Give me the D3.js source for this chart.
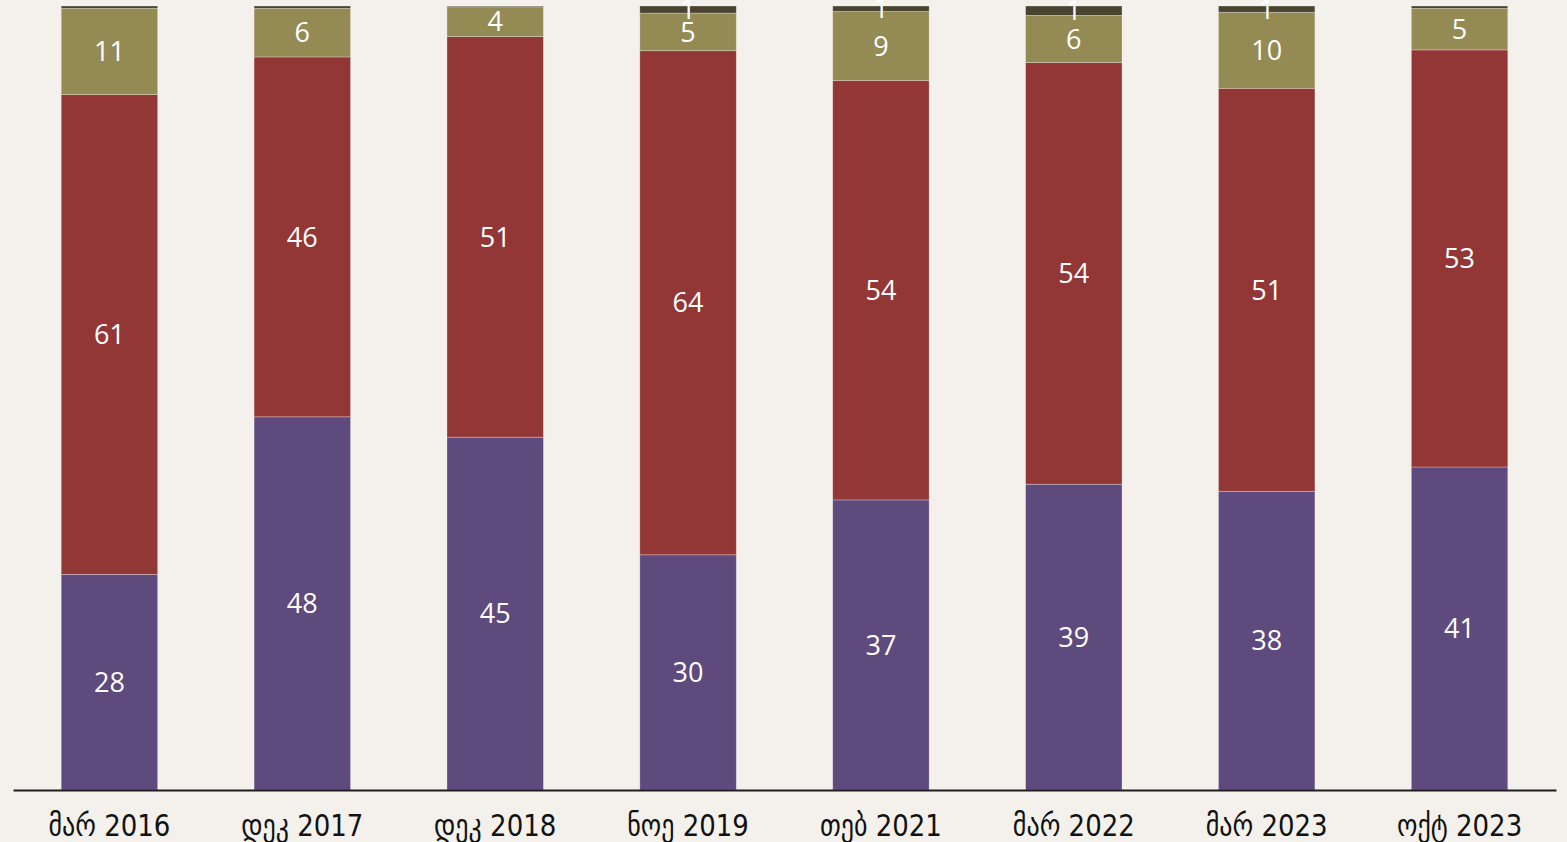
<!DOCTYPE html>
<html>
<head>
<meta charset="utf-8">
<script src="https://cdn.jsdelivr.net/npm/d3@7"></script>
<style>
  html, body { margin: 0; padding: 0; background: #F4F1EC; }
  svg { display: block; }
</style>
</head>
<body>
<svg id="chart" width="1567" height="842"></svg>
<script>
// Survey waves (x axis)
const categories = ["მარ 2016", "დეკ 2017", "დეკ 2018", "ნოე 2019", "თებ 2021", "მარ 2022", "მარ 2023", "ოქტ 2023"];

// Shares per wave, in percent, stacked bottom to top
const seriesA = [27.5, 47.6, 45.0, 30.0, 37.0, 39.0, 38.1, 41.2]; // purple
const seriesB = [61.2, 45.9, 51.1, 64.3, 53.5, 53.8, 51.4, 53.2]; // red
const seriesC = [11.0, 6.2, 3.8, 4.8, 8.8, 6.0, 9.7, 5.3];        // olive
const seriesD = [0.3, 0.3, 0.1, 0.9, 0.7, 1.2, 0.8, 0.3];         // dark

const seriesKeys = ["a", "b", "c", "d"];
const colors = { a: "#5E4A7C", b: "#933636", c: "#948A54", d: "#4A4530" };

const rows = categories.map((c, i) => ({
  cat: c, a: seriesA[i], b: seriesB[i], c: seriesC[i], d: seriesD[i]
}));

const svg = d3.select("#chart");
const margin = { left: 13, right: 11, top: 6, bottom: 52 };
const W = 1567, H = 842;
const baseY = H - margin.bottom;

const x = d3.scaleBand()
  .domain(categories)
  .range([margin.left, W - margin.right])
  .paddingInner(0.5)
  .paddingOuter(0.25);

const y = d3.scaleLinear()
  .domain([0, 100])
  .range([baseY, margin.top]);

const stack = d3.stack().keys(seriesKeys);
const layers = stack(rows);

const g = svg.append("g");

const layerG = g.selectAll("g.layer")
  .data(layers)
  .join("g")
  .attr("class", "layer")
  .attr("fill", d => colors[d.key]);

layerG.selectAll("rect")
  .data(d => d)
  .join("rect")
  .attr("x", d => x(d.data.cat))
  .attr("width", x.bandwidth())
  .attr("y", d => y(d[1]))
  .attr("height", d => y(d[0]) - y(d[1]))
  .attr("stroke", "rgba(255,255,255,0.35)")
  .attr("stroke-width", 0.8);

// Value labels, centred in each segment
layerG.selectAll("text")
  .data(d => d.filter(s => Math.round(s[1] - s[0]) >= 1))
  .join("text")
  .attr("x", d => x(d.data.cat) + x.bandwidth() / 2)
  .attr("y", d => (y(d[0]) + y(d[1])) / 2)
  .attr("dy", "0.36em")
  .attr("text-anchor", "middle")
  .attr("fill", "#FFFFFF")
  .attr("font-family", "'Open Sans', 'Noto Sans', sans-serif")
  .attr("font-size", 27)
  .text(d => d3.format(".0f")(d[1] - d[0]));

// Category axis
const xAxis = d3.axisBottom(x).tickSize(0).tickPadding(0);
const axG = g.append("g")
  .attr("transform", `translate(0,${baseY})`)
  .call(xAxis);

axG.select(".domain")
  .attr("stroke", "#1E1E1E")
  .attr("stroke-width", 2);

const ticks = axG.selectAll(".tick text")
  .attr("font-family", "'DejaVu Sans Condensed', 'DejaVu Sans', sans-serif")
  .attr("font-size", 30)
  .attr("fill", "#111")
  .attr("y", 0)
  .attr("dy", 0);

// Narrow the tick labels to the condensed width of the category captions
const refWidth = ticks.nodes()[0].getComputedTextLength();
const sx = 122 / refWidth;
ticks.each(function () {
  const t = d3.select(this);
  t.attr("transform", `translate(0,46) scale(${sx},1)`);
});
</script>
</body>
</html>
